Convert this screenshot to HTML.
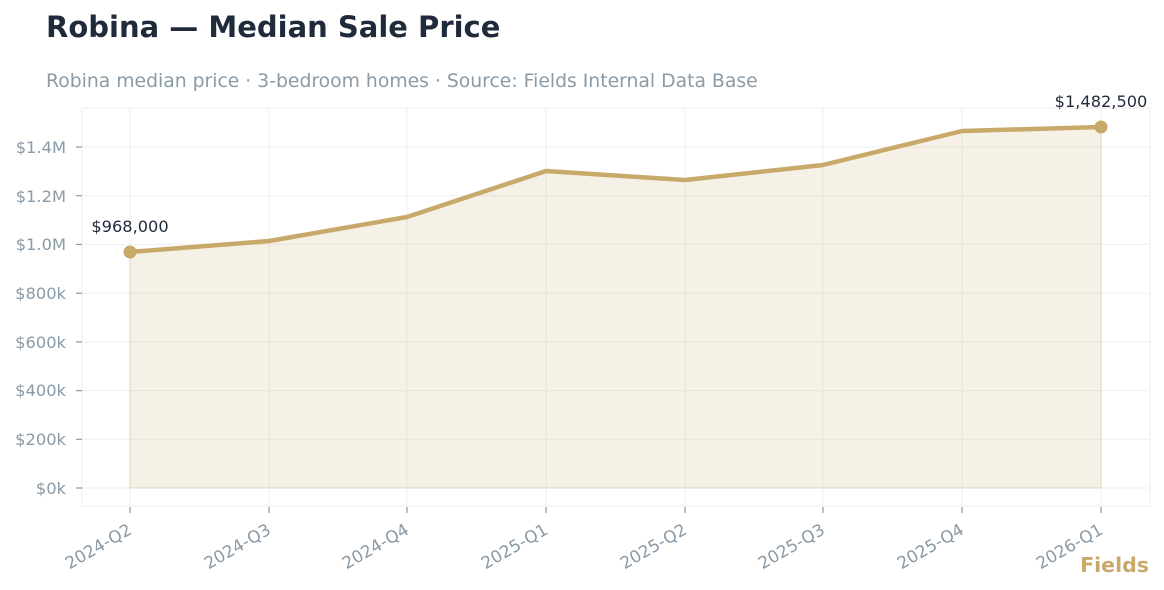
<!DOCTYPE html>
<html><head><meta charset="utf-8"><style>
body{margin:0;background:#fff;width:1164px;height:590px;overflow:hidden}
svg{display:block;font-family:"DejaVu Sans","Liberation Sans",sans-serif}
</style></head><body>
<svg width="1164" height="590" viewBox="0 0 1164 590">
<text x="46" y="37" font-size="29" font-weight="bold" fill="#1f2a3a">Robina — Median Sale Price</text>
<text x="46" y="87" font-size="18.8" fill="#8a9aa6">Robina median price · 3-bedroom homes · Source: Fields Internal Data Base</text>
<rect x="82" y="108" width="1068" height="398" fill="none" stroke="#eeeeee" stroke-width="1"/>
<g stroke="#efefef" stroke-width="1">
<line x1="82" x2="1150" y1="488" y2="488"/><line x1="82" x2="1150" y1="439.3" y2="439.3"/>
<line x1="82" x2="1150" y1="390.6" y2="390.6"/><line x1="82" x2="1150" y1="341.9" y2="341.9"/>
<line x1="82" x2="1150" y1="293.2" y2="293.2"/><line x1="82" x2="1150" y1="244.4" y2="244.4"/>
<line x1="82" x2="1150" y1="195.7" y2="195.7"/><line x1="82" x2="1150" y1="147" y2="147"/>
<line x1="130" x2="130" y1="108" y2="506"/><line x1="269" x2="269" y1="108" y2="506"/>
<line x1="407" x2="407" y1="108" y2="506"/><line x1="546" x2="546" y1="108" y2="506"/>
<line x1="685" x2="685" y1="108" y2="506"/><line x1="823" x2="823" y1="108" y2="506"/>
<line x1="962" x2="962" y1="108" y2="506"/><line x1="1101" x2="1101" y1="108" y2="506"/>
</g>
<polygon points="130,252 269,241 407,217 546,171 685,180 823,165 962,131 1101,127 1101,488 130,488" fill="#c8a96a" fill-opacity="0.16" stroke="#c8a96a" stroke-opacity="0.3"/>
<polyline points="130,252 269,241 407,217 546,171 685,180 823,165 962,131 1101,127" fill="none" stroke="#c8a96a" stroke-width="4.5" stroke-linejoin="round" stroke-linecap="round"/>
<circle cx="130" cy="252" r="6.5" fill="#c8a96a"/><circle cx="1101" cy="127" r="6.5" fill="#c8a96a"/>
<text x="130" y="232" font-size="16.2" fill="#1f2a3a" text-anchor="middle">$968,000</text>
<text x="1101" y="107" font-size="16.2" fill="#1f2a3a" text-anchor="middle">$1,482,500</text>
<g font-size="16.3" fill="#8a9aa6" text-anchor="end">
<text x="66" y="494">$0k</text><text x="66" y="445">$200k</text><text x="66" y="396">$400k</text>
<text x="66" y="348">$600k</text><text x="66" y="299">$800k</text><text x="66" y="250">$1.0M</text>
<text x="66" y="202">$1.2M</text><text x="66" y="153">$1.4M</text>
</g>
<g stroke="#8a9aa6" stroke-width="1.2">
<line x1="76" x2="82" y1="488" y2="488"/><line x1="76" x2="82" y1="439.3" y2="439.3"/><line x1="76" x2="82" y1="390.6" y2="390.6"/><line x1="76" x2="82" y1="341.9" y2="341.9"/><line x1="76" x2="82" y1="293.2" y2="293.2"/><line x1="76" x2="82" y1="244.4" y2="244.4"/><line x1="76" x2="82" y1="195.7" y2="195.7"/><line x1="76" x2="82" y1="147" y2="147"/>
<line x1="130" x2="130" y1="507" y2="513"/><line x1="269" x2="269" y1="507" y2="513"/><line x1="407" x2="407" y1="507" y2="513"/><line x1="546" x2="546" y1="507" y2="513"/><line x1="685" x2="685" y1="507" y2="513"/><line x1="823" x2="823" y1="507" y2="513"/><line x1="962" x2="962" y1="507" y2="513"/><line x1="1101" x2="1101" y1="507" y2="513"/>
</g>
<g font-size="16.8" fill="#8a9aa6" text-anchor="end">
<text transform="translate(133,533) rotate(-30)">2024-Q2</text>
<text transform="translate(272,533) rotate(-30)">2024-Q3</text>
<text transform="translate(410,533) rotate(-30)">2024-Q4</text>
<text transform="translate(549,533) rotate(-30)">2025-Q1</text>
<text transform="translate(688,533) rotate(-30)">2025-Q2</text>
<text transform="translate(826,533) rotate(-30)">2025-Q3</text>
<text transform="translate(965,533) rotate(-30)">2025-Q4</text>
<text transform="translate(1104,533) rotate(-30)">2026-Q1</text>
</g>
<text x="1149" y="572" font-size="20.5" font-weight="bold" fill="#c8a96a" text-anchor="end">Fields</text>
</svg>
</body></html>
